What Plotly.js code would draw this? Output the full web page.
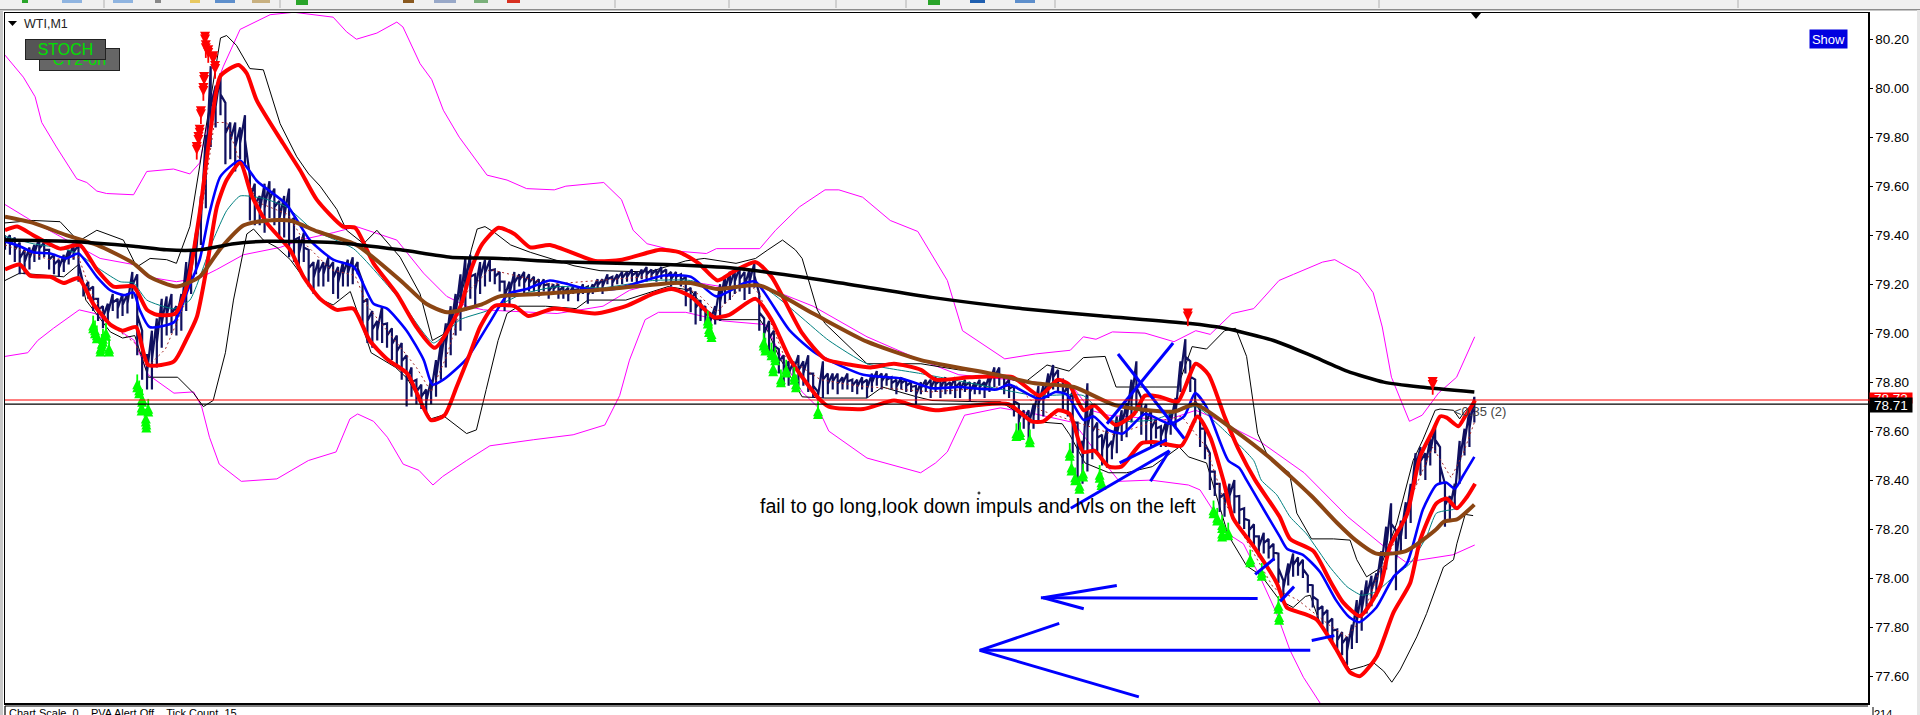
<!DOCTYPE html>
<html><head><meta charset="utf-8">
<script src="https://cdn.plot.ly/plotly-3.0.1.min.js"></script>
<style>html,body{margin:0;padding:0;background:#fff;overflow:hidden}#c{width:1920px;height:715px}</style>
</head><body><div id="c"></div>
<script>
const tickVals=[80.2,80,79.8,79.6,79.4,79.2,79,78.8,78.6,78.4,78.2,78,77.8,77.6];
const tickText=["80.20","80.00","79.80","79.60","79.40","79.20","79.00","78.80","78.60","78.40","78.20","78.00","77.80","77.60"];
const bidLevel=78.71, askLevel=78.727;

const barHigh=[79.40,79.40,79.39,79.37,79.34,79.35,79.36,79.39,79.37,79.34,79.32,79.30,79.32,79.34,79.36,79.36,
79.20,79.21,79.19,79.14,79.11,79.12,79.16,79.14,79.16,79.16,79.25,79.24,79.01,78.91,79.01,79.06,79.14,79.15,79.16,79.11,79.16,79.29,79.34,79.41,79.56,79.81,80.09,80.01,80.06,79.94,79.86,79.86,79.84,79.89,
79.64,79.61,79.56,79.61,79.62,79.59,79.54,79.56,79.59,79.47,79.39,79.41,79.34,79.29,79.30,79.29,79.31,79.29,79.27,79.29,79.30,79.31,79.29,79.21,79.14,79.09,79.05,79.11,79.04,79.02,78.99,78.96,78.91,78.86,78.81,78.79,78.77,78.81,78.89,78.96,79.04,79.11,79.16,79.24,79.31,79.32,79.24,79.29,79.30,79.30,
79.26,79.25,79.21,79.21,79.25,79.24,79.25,79.24,79.23,79.22,79.22,79.20,79.20,79.20,79.19,79.185,79.19,79.18,79.20,79.19,79.20,79.22,79.22,79.24,79.23,79.24,79.25,79.25,79.26,79.25,79.26,79.27,79.26,79.26,79.27,79.26,79.25,79.25,79.24,79.23,79.185,79.17,79.135,79.11,79.085,79.11,79.20,79.235,79.25,79.26,
79.27,79.25,79.26,79.285,79.16,79.06,79.05,79.01,78.935,78.91,78.885,78.885,78.91,78.885,78.91,78.835,78.76,78.885,78.835,78.835,78.835,78.82,78.835,78.81,78.81,78.82,78.81,78.835,78.845,78.835,78.835,78.82,78.81,78.82,78.81,78.80,78.785,78.80,78.81,78.81,
78.82,78.81,78.82,78.80,78.82,78.80,78.81,78.80,78.80,78.81,78.80,78.83,78.86,78.86,78.82,78.81,78.785,78.71,78.685,78.685,78.71,78.785,78.785,78.835,78.87,78.85,78.81,78.785,78.76,78.635,78.56,78.795,78.71,78.635,78.585,78.61,78.56,78.66,78.685,78.715,
78.81,78.885,78.735,78.71,78.685,78.65,78.62,78.635,78.685,78.735,78.885,78.975,78.885,78.81,78.685,78.61,78.51,78.435,78.385,78.345,78.385,78.40,78.335,78.285,78.235,78.22,78.17,78.185,78.16,78.14,78.10,77.99,78.06,78.10,78.085,78.075,78.01,77.97,77.91,77.885,
77.87,77.835,77.79,77.78,77.76,77.81,77.91,77.95,77.99,78.01,78.02,78.11,78.21,78.305,78.195,78.235,78.31,78.385,78.51,78.535,78.51,78.57,78.62,78.535,78.385,78.335,78.385,78.56,78.61,78.685,78.74];
const barLow=[79.34,79.32,79.29,79.24,79.24,79.26,79.29,79.30,79.31,79.26,79.24,79.23,79.25,79.28,79.30,79.21,
79.15,79.14,79.09,79.05,79.02,79.04,79.09,79.06,79.07,79.08,79.14,78.91,78.81,78.77,78.77,78.86,78.94,78.99,79.00,78.99,79.01,79.09,79.16,79.24,79.36,79.51,79.76,79.84,79.89,79.69,79.71,79.66,79.71,79.69,
79.46,79.44,79.44,79.41,79.47,79.44,79.39,79.39,79.31,79.29,79.26,79.29,79.19,79.16,79.19,79.19,79.21,79.16,79.14,79.19,79.19,79.20,79.24,79.04,78.96,78.94,78.97,78.96,78.94,78.89,78.86,78.81,78.70,78.74,78.71,78.69,78.67,78.71,78.74,78.81,78.86,78.91,78.99,79.01,79.09,79.14,79.11,79.16,79.19,79.21,
79.20,79.17,79.09,79.11,79.16,79.19,79.16,79.17,79.17,79.15,79.17,79.14,79.16,79.14,79.14,79.13,79.16,79.13,79.16,79.12,79.16,79.17,79.16,79.20,79.18,79.20,79.20,79.21,79.21,79.20,79.22,79.21,79.22,79.21,79.22,79.20,79.19,79.21,79.19,79.11,79.085,79.035,79.05,79.035,79.01,79.035,79.05,79.12,79.135,79.16,
79.17,79.135,79.16,79.185,79.01,78.935,78.91,78.885,78.835,78.785,78.785,78.81,78.785,78.785,78.76,78.735,78.725,78.735,78.75,78.77,78.75,78.77,78.77,78.76,78.75,78.77,78.735,78.76,78.785,78.77,78.785,78.77,78.75,78.77,78.76,78.76,78.71,78.75,78.76,78.735,
78.76,78.735,78.75,78.75,78.735,78.735,78.76,78.72,78.75,78.75,78.735,78.76,78.78,78.785,78.75,78.735,78.66,78.585,78.61,78.56,78.61,78.635,78.66,78.735,78.77,78.76,78.685,78.66,78.51,78.40,78.385,78.435,78.485,78.51,78.46,78.45,78.485,78.51,78.56,78.575,
78.635,78.675,78.585,78.56,78.535,78.57,78.535,78.535,78.585,78.61,78.76,78.835,78.76,78.635,78.535,78.485,78.36,78.335,78.27,78.25,78.285,78.265,78.22,78.20,78.155,78.12,78.085,78.10,78.08,78.07,77.98,77.925,77.97,78.005,78.01,78.00,77.94,77.88,77.83,77.81,
77.76,77.735,77.70,77.685,77.645,77.71,77.735,77.785,77.855,77.885,77.925,77.985,78.035,78.14,77.95,78.10,78.16,78.225,78.385,78.42,78.40,78.46,78.51,78.385,78.21,78.235,78.28,78.385,78.50,78.535,78.635];

const ma200X=[4,54,109,136,163,191,218,272,327,368,408,463,544,600,680,762,835,900,970,1000,1040,1070,1100,1130,1160,1204];
const ma200Y=[79.38,79.375,79.355,79.34,79.34,79.365,79.375,79.37,79.34,79.31,79.305,79.29,79.28,79.265,79.21,79.145,79.10,79.07,79.04,79.02,78.97,78.91,78.845,78.80,78.78,78.76];

const brownX=[4,27,54,79,109,122,144,163,180,199,218,237,259,291,327,348,365,392,408,439,486,549,564,586,620,664,708,752,814,845,877,911,959,976,1006,1036,1071,1092,1107,1124,1148,1172,1179,1190,1204];
const brownY=[79.475,79.45,79.40,79.36,79.285,79.23,79.19,79.23,79.345,79.44,79.46,79.46,79.415,79.36,79.215,79.12,79.085,79.115,79.15,79.16,79.175,79.205,79.205,79.18,79.195,79.08,78.965,78.89,78.83,78.795,78.78,78.705,78.68,78.71,78.61,78.495,78.335,78.225,78.155,78.10,78.11,78.195,78.23,78.24,78.30];

const blueX=[4,16,27,41,54,64,79,90,101,109,114,122,142,152,163,171,180,196,210,234,253,272,289,305,316,332,346,353,362,381,400,415,430,449,480,502,542,564,585,608,617,645,667,705,736,761,783,814,824,849,862,871,885,893,905,917,935,955,967,976,985,1003,1012,1018,1032,1045,1051,1064,1078,1091,1102,1110,1124,1138,1149,1162,1173,1181,1188,1195,1204];
const blueY=[79.375,79.355,79.33,79.325,79.305,79.325,79.23,79.175,79.155,79.165,79.095,79.025,79.045,79.16,79.30,79.49,79.64,79.705,79.62,79.525,79.38,79.30,79.27,79.12,79.10,79.01,78.89,78.79,78.81,78.895,79.045,79.16,79.18,79.215,79.18,79.18,79.235,79.23,79.15,79.205,79.21,79.01,78.915,78.83,78.815,78.775,78.78,78.77,78.79,78.73,78.76,78.75,78.645,78.66,78.605,78.59,78.67,78.63,78.66,78.755,78.70,78.48,78.45,78.40,78.28,78.17,78.12,78.095,78.025,77.91,77.84,77.82,77.88,78.005,78.06,78.28,78.38,78.39,78.365,78.42,78.495];

const redUpX=[4,14,27,49,65,79,92.6,109,120,128,143,152.5,163,171.5,180,194.7,201.5,209.6,231,245,258.6,280,290,305,324,340,355,376,385,394,407,420,433,449,486,508,539,555,570.5,586,598.6,617,630,655,673.6,695.5,711,730,752,764,792,827,849,864,873,885,893.6,911,926,935,947,961.7,976.5,987,1000,1012,1025,1045,1053.5,1072.6,1086,1097,1110.7,1127,1135,1149,1159.6,1170.5,1176,1181.4,1191,1196.4,1204.6];
const redUpY=[79.42,79.435,79.40,79.345,79.36,79.26,79.19,79.19,79.095,79.075,79.08,79.19,79.49,79.815,80.05,80.095,80.06,79.95,79.775,79.665,79.545,79.435,79.43,79.285,79.16,79.025,78.94,79.11,79.265,79.365,79.43,79.405,79.35,79.36,79.295,79.30,79.34,79.33,79.285,79.215,79.25,79.29,79.23,79.00,78.895,78.87,78.86,78.875,78.85,78.81,78.82,78.82,78.745,78.81,78.79,78.685,78.705,78.625,78.67,78.745,78.74,78.72,78.875,78.83,78.66,78.52,78.40,78.25,78.16,78.11,77.99,77.90,77.845,77.965,78.13,78.26,78.495,78.605,78.66,78.655,78.62,78.66,78.725];

const redLowX=[4,16,24.5,41,52,64,76,90,100,111,121,142,151.7,160.6,168.8,177,185,196,205.6,217.8,236.9,247.8,261.4,275,288.6,301.8,317,332.5,351.8,363,372.8,384,392,403.5,420,431.4,451.8,486,511,533,548.6,564,583,595.5,617,630,645.5,667.4,676.8,705,730,748.6,764,795.5,823.6,842.4,852,864,873.6,884.6,893.6,905.5,915.8,932,944,964.6,978,988.3,999,1007,1023.6,1042.6,1050.8,1064.4,1075.3,1091.7,1102.5,1110.7,1124.3,1138,1151.6,1159.7,1173,1181.4,1189.7,1197.8,1204.6];
const redLowY=[79.26,79.28,79.235,79.23,79.205,79.225,79.12,79.035,79.01,79.025,78.87,78.885,78.97,79.065,79.27,79.515,79.625,79.695,79.56,79.45,79.34,79.23,79.14,79.095,79.10,78.97,78.89,78.835,78.645,78.665,78.78,78.92,79.025,79.11,79.11,79.07,79.10,79.08,79.11,79.16,79.18,79.15,79.065,79.075,79.14,79.055,78.89,78.74,78.70,78.69,78.725,78.70,78.685,78.705,78.71,78.64,78.64,78.685,78.67,78.515,78.52,78.455,78.455,78.55,78.555,78.54,78.66,78.575,78.40,78.245,78.13,77.98,77.88,77.855,77.83,77.705,77.615,77.60,77.68,77.86,77.98,78.155,78.305,78.325,78.285,78.33,78.385];

const bandUpX=[4,27,49,64,79,100.7,111.6,122.5,136,144,155,171.5,180,185,193,204,215,228.7,242.3,252,261.4,275,283,296.8,307.7,326.7,343,353,362,378,384.8,389.6,396,404,417,433,446,468.7,490,530,560,575,601,617,627,639,649.5,655,667.4,673.6,708,752,783,811,836,855,873,884.7,902.5,911.4,944,961.7,973.5,985.3,1000,1009,1018,1024,1027,1035.6,1053,1059,1071,1089,1102.5,1108,1116,1127,1140.7,1154,1162,1172,1176,1187,1192,1196,1203];
const bandUpY=[79.45,79.46,79.455,79.375,79.42,79.38,79.27,79.305,79.30,79.285,79.435,79.94,80.205,80.215,80.175,80.08,80.075,79.855,79.72,79.65,79.60,79.505,79.42,79.365,79.42,79.31,79.16,78.97,78.995,79.185,79.34,79.425,79.435,79.41,79.36,79.33,79.31,79.275,79.255,79.25,79.295,79.305,79.285,79.305,79.34,79.38,79.34,79.305,79.095,79.04,78.875,78.875,78.85,78.835,78.795,78.87,78.845,78.90,78.905,78.78,78.78,78.78,78.945,78.935,79.01,79.02,78.905,78.70,78.59,78.495,78.43,78.265,78.16,78.16,78.155,78.075,78.005,78.04,78.225,78.48,78.565,78.685,78.69,78.685,78.65,78.68,78.71];

const bandLowX=[4,16,52,64,70,90,100,110,121,145,158,166,174,184,190.6,201.5,207,215,226,237,248,261,272,286,294,303,323,332.5,351.8,361.5,381,389,397,406.7,414,423.6,445.5,470.5,480,511,545.5,564,583,620.5,626.8,636,655,673.6,708,720.5,748.6,761,798.6,817,842.4,867.4,873.6,886,905.5,920,941,963,970.5,985.3,1003,1018,1030,1045,1056,1066,1070,1078,1102.5,1113.5,1121.6,1130,1136.6,1143.4,1157,1165,1178.8,1187,1189.7,1196.5,1203];
const bandLowY=[79.215,79.245,79.23,79.28,79.135,79.005,78.98,78.99,78.82,78.82,78.755,78.70,78.725,78.92,79.135,79.405,79.425,79.38,79.35,79.30,79.225,79.14,79.115,79.17,79.055,78.92,78.86,78.815,78.65,78.665,78.59,78.605,78.77,78.97,79.08,79.11,79.11,79.10,79.135,79.135,79.19,79.175,79.055,79.055,79.01,78.905,78.74,78.735,78.735,78.78,78.74,78.725,78.72,78.72,78.64,78.63,78.585,78.47,78.43,78.43,78.455,78.535,78.495,78.47,78.175,78.05,78.01,77.91,77.88,77.925,77.93,77.815,77.625,77.64,77.655,77.62,77.575,77.625,77.76,77.855,78.045,78.075,78.14,78.26,78.255];

const envUpX=[4,19,28.6,34,46,62.6,70.8,79,87,109,119.8,141.6,155,163,174,182.4,196,220.5,240,272,283,291,307.7,324,329,343,352.5,362,375,384.8,397.7,414,430,452.6,462,493,507.5,517,528.4,552.6,576.8,585,620.4,633.3,652.7,673.7,685,704.4,727,749.5,768,773.6,786,820.5,845.5,874,884.7,895,908.4,935,958.7,976.5,988.3,1006,1023.8,1044.5,1056.3,1080,1090,1109.6,1121.4,1128.8,1136.3,1145,1151,1161.4,1174.7,1189.5,1204.3];
const envUpY=[80.135,80.045,79.965,79.86,79.76,79.63,79.615,79.58,79.57,79.565,79.66,79.67,79.65,79.695,79.98,80.09,80.24,80.30,80.31,80.29,80.23,80.20,80.225,80.27,80.25,80.10,80.035,79.91,79.80,79.735,79.645,79.625,79.59,79.585,79.60,79.615,79.545,79.42,79.365,79.335,79.325,79.345,79.345,79.42,79.515,79.585,79.585,79.555,79.46,79.415,79.265,79.215,79.01,78.895,78.915,78.93,78.985,78.975,79.005,79.00,78.965,79.01,78.995,79.08,79.10,79.215,79.24,79.29,79.30,79.245,79.165,79.025,78.82,78.71,78.64,78.665,78.755,78.82,78.985];

const envLowX=[4,22.6,30.7,43.6,64.6,77.5,90,109.7,121,142,158,164.6,171,179,197,226,251.8,274.4,285.7,292,305,316.3,329.2,342,353.5,361.5,381,400,435.8,468,493.9,506,514,526.8,537.7,560,590,625,640,655,667.4,676.8,708,751.8,764,773.6,787.7,817,845.5,876.8,898,914,939.5,970.5,980,1003,1015.4,1029,1042.6,1053.5,1064.4,1078];
const envLowY=[78.905,78.92,78.97,79.02,79.095,79.08,79.035,78.97,78.83,78.755,78.76,78.70,78.575,78.465,78.395,78.405,78.48,78.515,78.65,78.67,78.64,78.575,78.465,78.44,78.38,78.415,78.48,78.54,78.565,78.585,78.625,78.745,78.89,79.055,79.085,79.085,79.05,79.035,78.885,78.76,78.70,78.60,78.49,78.43,78.47,78.515,78.665,78.695,78.67,78.635,78.495,78.395,78.40,78.38,78.36,78.18,78.14,78.005,77.855,77.705,77.595,77.49];

const envMidX=[4,27,49,65,81.7,109,119.8,144,163,177,198.7,228.7,245,272,291,324,345.8,364.8,381,394.8,413,454.9,492.4,514,533,564,589,623.6,664,708,751.8,783,845.5,876.8,890.7,905,952.8,976.5,988.3,1029.7,1065,1100.7,1130,1148,1186.5,1204.3];
const envMidY=[79.525,79.455,79.395,79.35,79.305,79.28,79.23,79.21,79.225,79.26,79.32,79.35,79.38,79.41,79.435,79.38,79.245,79.15,79.11,79.095,79.09,79.08,79.11,79.175,79.20,79.21,79.19,79.19,79.11,78.985,78.89,78.83,78.80,78.775,78.685,78.665,78.645,78.685,78.66,78.555,78.43,78.25,78.13,78.065,78.095,78.135];

const tealX=[4,27,51.7,65,81.7,98,109,119.8,141.6,155,174,185,196,215,234,256,288.6,326.7,354,375.7,397,426.8,454.9,492,533,564,586,620.5,676.8,708,751.8,798.6,845.5,884.7,905.5,941,976.5,994,1023.8,1030,1042.6,1053.5,1067,1086,1100,1112,1124,1138,1151.6,1165,1173,1187];
const tealY=[79.395,79.365,79.345,79.32,79.26,79.21,79.205,79.135,79.10,79.135,79.38,79.50,79.56,79.55,79.515,79.42,79.345,79.135,78.96,79.055,79.09,79.16,79.19,79.185,79.215,79.215,79.18,79.195,78.97,78.875,78.835,78.79,78.745,78.745,78.645,78.645,78.70,78.63,78.48,78.40,78.34,78.25,78.18,78.045,77.965,77.93,77.945,78.005,78.06,78.17,78.265,78.28];

const dashX=[4,40,64,75,90,110,120,135,150,165,175,185,195,210,235,250,270,290,300,320,340,352,365,380,400,450,540,570,585,610,620,640,670,700,760,830,850,880,910,940,965,985,1000,1020,1040,1060,1085,1100,1112,1125,1140,1155,1170,1185,1195,1204];
const dashY=[79.36,79.30,79.31,79.16,79.035,78.96,78.86,78.935,79.11,79.51,79.86,79.86,79.71,79.535,79.485,79.36,79.26,79.235,79.11,78.985,78.86,78.76,78.91,79.16,79.26,79.20,79.235,79.16,79.085,79.21,79.16,78.91,78.81,78.785,78.76,78.785,78.685,78.635,78.585,78.635,78.66,78.535,78.31,78.135,77.96,77.91,77.81,77.76,77.835,78.01,78.16,78.36,78.535,78.41,78.51,78.635];

const greenX=[76,77.5,79,86.5,84,83,82,89,112,113.6,116,115.6,121,119,119.4,578,579,581,623.6,625,630,633,631.4,637.7,642,648.6,650,668,833,830,841,873.6,875,878,884.5,881.5,899.5,898,991,994,998,998,1003,1021,1030.4,1044,1044.6];
const greenY=[79.04,79.02,79.00,79.01,78.985,78.965,78.945,78.945,78.80,78.775,78.74,78.705,78.70,78.66,78.635,79.06,79.025,79.005,78.97,78.95,78.93,78.91,78.865,78.82,78.86,78.83,78.80,78.69,78.605,78.60,78.575,78.52,78.46,78.42,78.435,78.385,78.40,78.43,78.285,78.255,78.225,78.19,78.195,78.085,78.03,77.895,77.85];
const redArrowX=[167.4,168,170,174,175.6,166.6,166,164,163,162,160.6,970,1170];
const redArrowY=[80.19,80.155,80.135,80.11,80.07,80.025,79.98,79.885,79.81,79.78,79.74,79.06,78.78];

const drawnX=[850,1027,null,852,912,null,852,885,null,800,1070,null,800,865,null,800,930,null,904,958,null,913,967,null,914.3,952.8,null,874.4,955,null,939.5,955,null,1025,1040.7,null,1045.4,1056.8,null,1071.2,1089.7];
const drawnY=[77.92,77.917,null,77.92,77.97,null,77.92,77.875,null,77.705,77.705,null,77.705,77.815,null,77.705,77.515,null,78.63,78.96,null,78.915,78.57,null,78.47,78.565,null,78.285,78.52,null,78.395,78.52,null,78.015,78.08,null,77.905,77.965,null,77.745,77.765];

const noteText="fail to go long,look down impuls and lvls on the left";
const statusText="Chart Scale, 0 &nbsp;&nbsp; PVA Alert Off &nbsp;&nbsp; Tick Count, 15";

// price bars: each high-low range, with a spine through the range midpoints
const barsX=[],barsY=[];
barHigh.forEach((h,i)=>{const x=4+i*4,m=(h+barLow[i])/2;barsX.push(x,x,x);barsY.push(h,barLow[i],m);});

const L=5,R=1868,T=13,B=703;
const fx=p=>(p-L)/(R-L), fy=p=>1-(p-T)/(B-T);
const line=(x,y,color,width,dash,smooth)=>({type:'scatter',mode:'lines',x,y,hoverinfo:'skip',
 line:Object.assign({color,width,dash:dash||'solid'},smooth?{shape:'spline',smoothing:smooth}:{}),connectgaps:false});
const arrows=(x,y,color,sym,step)=>{
 const y2=y.map(v=>v+step);
 const mk=(yy,symbol,size,ln)=>({type:'scatter',mode:'markers',x,y:yy,hoverinfo:'skip',marker:Object.assign({symbol,size,color},ln?{line:ln}:{line:{width:0}})});
 return [mk(y,sym,10),mk(y2,sym,10),mk(y,'line-ns',11,{color,width:1.8})];
};
const traces=[
 line(envUpX,envUpY,'#ff00ff',1),
 line(envLowX,envLowY,'#ff00ff',1),
 line(envMidX,envMidY,'#ff00ff',1),
 line(bandUpX,bandUpY,'#000000',1),
 line(bandLowX,bandLowY,'#000000',1),
 line(barsX,barsY,'#10105f',2.2),
 line(dashX,dashY,'#a52a2a',1,'2px,3px'),
 line(tealX,tealY,'#008080',1,null,0.5),
 line(blueX,blueY,'#0000ff',2.6,null,0.6),
 line(redUpX,redUpY,'#ff0000',4,null,0.6),
 line(redLowX,redLowY,'#ff0000',4,null,0.6),
 line(brownX,brownY,'#8b4513',4,null,0.6),
 line(ma200X,ma200Y,'#000000',3.5,null,0.6),
 ...arrows(greenX,greenY,'#00ff00','arrow-up',0.012),
 ...arrows(redArrowX,redArrowY,'#ff0000','arrow-down',-0.012),
 line(drawnX,drawnY,'#0000ff',3)
];

const rect=(x0,y0,x1,y1,fill,lc,lw)=>({type:'rect',xref:'paper',yref:'paper',x0:fx(x0),x1:fx(x1),y0:fy(y0),y1:fy(y1),fillcolor:fill,line:{color:lc||fill,width:lw===undefined?0:lw},layer:'above'});
const seg=(x0,y0,x1,y1,c,w)=>({type:'line',xref:'paper',yref:'paper',x0:fx(x0),x1:fx(x1),y0:fy(y0),y1:fy(y1),line:{color:c,width:w}});
const shapes=[
 rect(0,0,1920,9,'#f0f0f0'),
 rect(0,9,1920,10.5,'#8c8c8c'),
 rect(0,10,3,715,'#c8c8c8'),
 rect(1917,10,1920,715,'#e6e6e6'),
 seg(5,706,1868,706,'#000',1.2),
 seg(5,706,5,715,'#000',1.2),
 seg(1873,707,1873,715,'#000',1),
 // toolbar icons, cut off by the window
 rect(22,0,28,3,'#2aa52a'),rect(62,0,82,3,'#8fb4e0'),rect(113,0,133,3,'#8fb4e0'),rect(155,0,161,3,'#888'),
 rect(190,0,200,3,'#e8c860'),rect(215,0,235,3,'#5e8fcc'),rect(252,0,270,3,'#c8b080'),rect(296,0,308,5,'#2aa52a'),
 rect(403,0,414,3,'#8a5a20'),rect(434,0,456,3,'#98a8c8'),rect(474,0,488,3,'#7ab07a'),rect(507,0,520,3,'#d83020'),
 rect(928,0,940,5,'#2aa52a'),rect(970,0,985,3,'#1f5fb0'),rect(1015,0,1035,3,'#5e8fcc'),
 seg(104,0,104,8,'#b0b0b0',1),seg(280,0,280,8,'#b0b0b0',1),seg(615,0,615,8,'#b0b0b0',1),seg(729,0,729,8,'#b0b0b0',1),seg(836,0,836,8,'#b0b0b0',1),seg(906,0,906,8,'#b0b0b0',1),seg(1055,0,1055,8,'#b0b0b0',1),seg(1379,0,1379,8,'#b0b0b0',1),seg(1738,0,1738,8,'#b0b0b0',1),
 // shift marker at top of chart and small triangle beside the symbol name
 {type:'path',xref:'paper',yref:'paper',path:`M ${fx(1471)} ${fy(13)} L ${fx(1481)} ${fy(13)} L ${fx(1476)} ${fy(19)} Z`,fillcolor:'#000',line:{width:0}},
 {type:'path',xref:'paper',yref:'paper',path:`M ${fx(8)} ${fy(21)} L ${fx(17)} ${fy(21)} L ${fx(12.5)} ${fy(26)} Z`,fillcolor:'#000',line:{width:0}},
 {type:'circle',xref:'paper',yref:'paper',x0:fx(978),x1:fx(980),y0:fy(492),y1:fy(494),line:{color:'#000',width:1}}
];
const F='"Liberation Sans",Arial,sans-serif';
const ann=(x,y,text,o)=>Object.assign({xref:'paper',yref:'paper',x:fx(x),y:fy(y),text,showarrow:false,xanchor:'left',yanchor:'middle',font:{family:F,size:13,color:'#000'},borderpad:0},o||{});
const annotations=[
 ann(23,24,'WTI,M1',{font:{family:F,size:12.5,color:'#222'}}),
 ann(79.5,59.5,'CT2-on',{xanchor:'center',width:79,height:21,align:'center',bgcolor:'#666666',bordercolor:'#222',borderwidth:1,font:{family:F,size:16,color:'#00e000'}}),
 ann(65,49,'STOCH',{xanchor:'center',width:79,height:19,align:'center',bgcolor:'#555555',bordercolor:'#222',borderwidth:1,font:{family:F,size:16,color:'#00e000'}}),
 ann(1828,39,'Show',{xanchor:'center',width:37,height:18,align:'center',bgcolor:'#0000e0',font:{family:F,size:13,color:'#fff'}}),
 ann(1453,411,'&lt;0.35 (2)',{font:{family:F,size:13,color:'#444'}}),
 ann(759,506,noteText,{font:{family:F,size:19.6,color:'#000'}}),
 ann(8,713,statusText,{font:{family:F,size:11,color:'#000'}}),
 ann(1891,398,'78.73',{xanchor:'center',width:42,height:10,align:'center',bgcolor:'#ff0000',font:{family:F,size:13.5,color:'#fff'}}),
 ann(1891,405,'78.71',{xanchor:'center',width:42,height:14,align:'center',bgcolor:'#000000',font:{family:F,size:13.5,color:'#fff'}}),
 ann(1873,714,'214',{font:{family:F,size:11,color:'#000'}})
];
shapes.push(
 {type:'line',xref:'paper',yref:'y',x0:0,x1:fx(1911),y0:askLevel,y1:askLevel,line:{color:'#ff0000',width:1.2}},
 {type:'line',xref:'paper',yref:'y',x0:0,x1:fx(1911),y0:bidLevel,y1:bidLevel,line:{color:'#000000',width:1.2}}
);
const layout={
 width:1920,height:715,margin:{l:L,r:1920-R,t:T,b:715-B,pad:0},
 paper_bgcolor:'#ffffff',plot_bgcolor:'#ffffff',showlegend:false,hovermode:false,
 xaxis:{range:[4,1525.5],showgrid:false,zeroline:false,showticklabels:false,ticks:'',showline:true,mirror:true,linecolor:'#000',linewidth:1.5},
 yaxis:{range:[77.49,80.307],side:'right',showgrid:false,zeroline:false,showline:true,mirror:true,linecolor:'#000',linewidth:1.5,
  tickmode:'array',tickvals:tickVals,ticktext:tickText,ticks:'outside',ticklen:3,tickcolor:'#000',
  tickfont:{family:F,size:13.5,color:'#000'}},
 shapes,annotations
};
Plotly.newPlot('c',traces,layout,{staticPlot:true,displayModeBar:false});
</script></body></html>
